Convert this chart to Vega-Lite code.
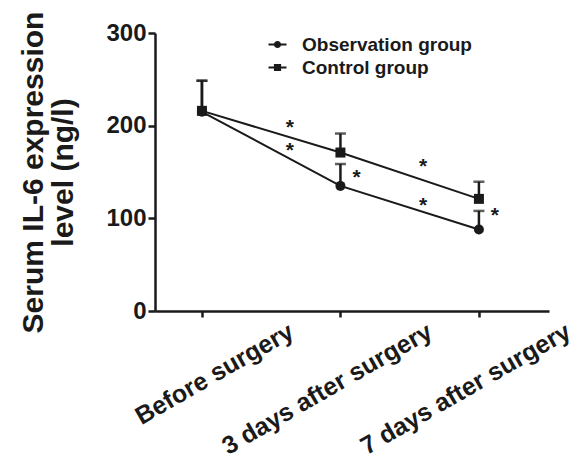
{
  "$schema": "https://vega.github.io/schema/vega-lite/v6.json",
  "width": 394,
  "height": 278,
  "autosize": "none",
  "padding": {"left": 155, "top": 33, "right": 38, "bottom": 153},
  "config": {
    "view": {"stroke": null},
    "font": "Liberation Sans",
    "axis": {"grid": false, "domainColor": "#1a1a1a", "tickColor": "#1a1a1a", "labelColor": "#1a1a1a", "titleColor": "#1a1a1a", "domainWidth": 2.5, "tickWidth": 2.5, "labelFontWeight": "bold", "titleFontWeight": "bold"}
  },
  "datasets": {
    "groups": [
      {"time": "Before surgery", "t": 0, "group": "Observation group", "mean": 215, "upper": 248.5},
      {"time": "3 days after surgery", "t": 1, "group": "Observation group", "mean": 135, "upper": 158.6},
      {"time": "7 days after surgery", "t": 2, "group": "Observation group", "mean": 88, "upper": 108},
      {"time": "Before surgery", "t": 0, "group": "Control group", "mean": 216, "upper": 248.5},
      {"time": "3 days after surgery", "t": 1, "group": "Control group", "mean": 171, "upper": 191.5},
      {"time": "7 days after surgery", "t": 2, "group": "Control group", "mean": 121, "upper": 139.5}
    ],
    "stars": [
      {"t": 0.635, "y": 191, "mark": "*"},
      {"t": 0.635, "y": 166, "mark": "*"},
      {"t": 1.117, "y": 137, "mark": "*"},
      {"t": 1.596, "y": 148.5, "mark": "*"},
      {"t": 1.596, "y": 107, "mark": "*"},
      {"t": 2.115, "y": 96.5, "mark": "*"}
    ]
  },
  "layer": [
    {
      "data": {"name": "groups"},
      "mark": {"type": "rule", "color": "#1a1a1a", "strokeWidth": 2.5},
      "encoding": {
        "x": {"field": "t", "type": "quantitative",
          "scale": {"domain": [-0.339, 2.506], "nice": false, "zero": false},
          "axis": {"values": [0, 1, 2], "title": null, "tickSize": 6,
            "labelExpr": "datum.value == 0 ? 'Before surgery' : datum.value == 1 ? '3 days after surgery' : '7 days after surgery'",
            "labelAngle": -30, "labelAlign": "right", "labelBaseline": "middle",
            "labelOffset": 89, "labelPadding": 12, "labelFontSize": 25, "labelFlush": false, "labelOverlap": false, "labelBound": false, "labelLimit": 0}},
        "y": {"field": "mean", "type": "quantitative",
          "scale": {"domain": [0, 300], "nice": false},
          "axis": {"values": [0, 100, 200, 300], "tickSize": 7, "labelPadding": 2, "labelFontSize": 24,
            "title": ["Serum IL-6 expression", "level (ng/l)"],
            "titleFontSize": 30, "titleLineHeight": 30, "titleAngle": -90,
            "titleX": -122, "titleY": 139, "titleAlign": "center", "titleBaseline": "middle"}},
        "y2": {"field": "upper"}
      }
    },
    {
      "data": {"name": "groups"},
      "mark": {"type": "tick", "orient": "horizontal", "color": "#1a1a1a", "size": 11, "thickness": 2.5},
      "encoding": {
        "x": {"field": "t", "type": "quantitative"},
        "y": {"field": "upper", "type": "quantitative"}
      }
    },
    {
      "data": {"name": "groups"},
      "mark": {"type": "line", "color": "#1a1a1a", "strokeWidth": 2},
      "encoding": {
        "x": {"field": "t", "type": "quantitative"},
        "y": {"field": "mean", "type": "quantitative"},
        "detail": {"field": "group"}
      }
    },
    {
      "data": {"name": "groups"},
      "mark": {"type": "point", "filled": true, "color": "#1a1a1a", "opacity": 1, "size": 100},
      "encoding": {
        "x": {"field": "t", "type": "quantitative"},
        "y": {"field": "mean", "type": "quantitative"},
        "shape": {"field": "group", "type": "nominal",
          "scale": {"domain": ["Observation group", "Control group"], "range": ["circle", "square"]},
          "legend": null}
      }
    },
    {
      "data": {"name": "groups"},
      "mark": {"type": "point", "filled": true, "color": "#1a1a1a", "opacity": 0, "size": 324},
      "encoding": {
        "x": {"field": "t", "type": "quantitative"},
        "y": {"field": "mean", "type": "quantitative"},
        "shape": {"field": "group", "type": "nominal",
          "scale": {"domain": ["Observation group", "Control group"],
            "range": ["M-1,-0.1H1V0.1H-1Z M0.4,0A0.4,0.4 0 1,1 -0.4,0A0.4,0.4 0 1,1 0.4,0Z",
                      "M-1,-0.1H1V0.1H-1Z M-0.4,-0.4H0.4V0.4H-0.4Z"]},
          "legend": {"title": null, "orient": "none", "legendX": 113, "legendY": 2,
            "symbolOpacity": 1, "symbolFillColor": "#1a1a1a", "symbolStrokeColor": "#1a1a1a", "symbolStrokeWidth": 0,
            "symbolSize": 324, "labelFontSize": 19, "labelFontWeight": "bold", "labelColor": "#1a1a1a",
            "labelOffset": 15, "rowPadding": 3, "labelLimit": 300}}
      }
    },
    {
      "data": {"name": "stars"},
      "mark": {"type": "text", "fontSize": 21, "fontWeight": "bold", "color": "#1a1a1a", "baseline": "alphabetic", "align": "center"},
      "encoding": {
        "x": {"field": "t", "type": "quantitative"},
        "y": {"field": "y", "type": "quantitative"},
        "text": {"field": "mark"}
      }
    }
  ],
  "resolve": {"scale": {"shape": "independent"}, "legend": {"shape": "independent"}}
}
